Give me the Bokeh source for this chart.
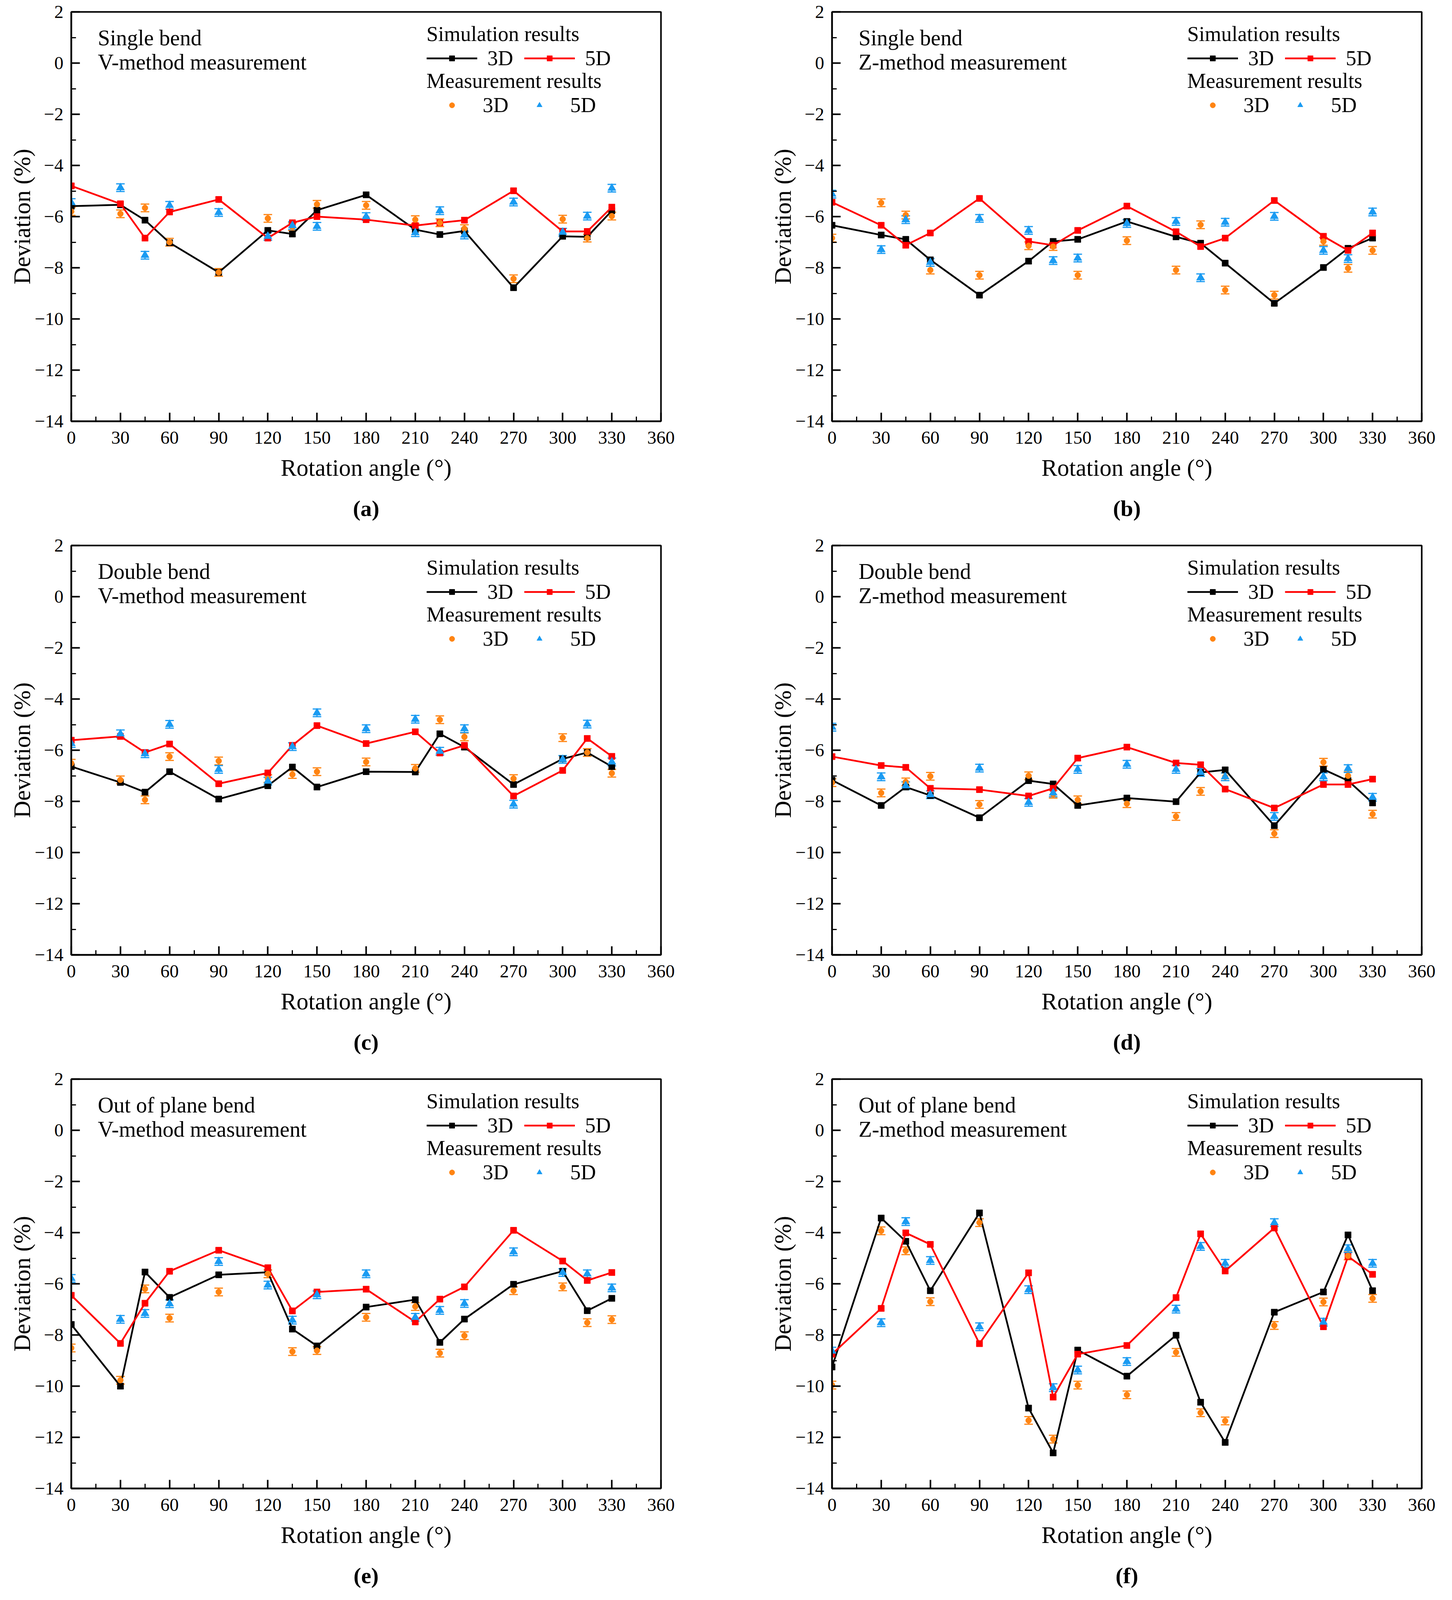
from bokeh.plotting import figure
from bokeh.models import (ColumnDataSource, Whisker, TeeHead, Legend, LegendItem,
                          Label, FixedTicker, Range1d, Title)
from bokeh.layouts import row, column
from bokeh.embed import file_html
from bokeh.resources import INLINE

# ---------------- data ----------------
ANGLES = [0, 30, 45, 60, 90, 120, 135, 150, 180, 210, 225, 240, 270, 300, 315, 330]

a_sim3 = [-5.59, -5.54, -6.14, -7.02, -8.18, -6.54, -6.68, -5.75, -5.15, -6.51, -6.70, -6.56, -8.78, -6.77, -6.79, -5.77]
a_sim5 = [-4.80, -5.50, -6.84, -5.82, -5.33, -6.84, -6.24, -6.00, -6.12, -6.35, -6.24, -6.14, -4.99, -6.58, -6.58, -5.63]
a_meas3 = [-5.80, -5.89, -5.66, -7.00, -8.18, -6.07, -6.40, -5.52, -5.56, -6.12, -6.24, -6.47, -8.43, -6.10, -6.84, -5.98]
a_meas5 = [-5.45, -4.87, -7.51, -5.56, -5.84, -6.77, -6.35, -6.38, -6.00, -6.63, -5.77, -6.72, -5.43, -6.61, -5.98, -4.89]

b_sim3 = [-6.34, -6.72, -6.89, -7.69, -9.07, -7.74, -6.97, -6.89, -6.19, -6.79, -7.04, -7.82, -9.39, -7.99, -7.24, -6.84]
b_sim5 = [-5.44, -6.34, -7.12, -6.64, -5.29, -6.97, -7.12, -6.54, -5.59, -6.59, -7.17, -6.84, -5.37, -6.77, -7.32, -6.64]
b_meas3 = [-6.84, -5.46, -5.94, -8.09, -8.29, -7.14, -7.17, -8.29, -6.94, -8.09, -6.32, -8.87, -9.07, -6.97, -8.02, -7.32]
b_meas5 = [-5.12, -7.29, -6.12, -7.79, -6.07, -6.54, -7.72, -7.62, -6.27, -6.19, -8.39, -6.22, -5.99, -7.32, -7.64, -5.82]

c_sim3 = [-6.64, -7.26, -7.64, -6.84, -7.91, -7.39, -6.66, -7.44, -6.84, -6.85, -5.36, -5.88, -7.34, -6.34, -6.09, -6.64]
c_sim5 = [-5.61, -5.46, -6.09, -5.76, -7.31, -6.89, -5.81, -5.04, -5.74, -5.28, -6.11, -5.81, -7.79, -6.79, -5.54, -6.24]
c_meas3 = [-6.51, -7.16, -7.94, -6.25, -6.42, -7.11, -6.95, -6.84, -6.46, -6.71, -4.81, -5.48, -7.11, -5.51, -6.09, -6.90]
c_meas5 = [-5.74, -5.36, -6.14, -4.99, -6.75, -7.21, -5.86, -4.54, -5.16, -4.79, -6.04, -5.16, -8.11, -6.36, -4.98, -6.46]

d_sim3 = [-7.17, -8.16, -7.44, -7.77, -8.64, -7.19, -7.32, -8.16, -7.87, -8.01, -6.87, -6.77, -8.95, -6.75, -7.19, -8.06]
d_sim5 = [-6.25, -6.60, -6.67, -7.49, -7.54, -7.79, -7.49, -6.31, -5.88, -6.50, -6.57, -7.52, -8.26, -7.34, -7.34, -7.13]
d_meas3 = [-7.27, -7.67, -7.24, -7.02, -8.12, -7.00, -7.72, -7.94, -8.09, -8.59, -7.61, -7.04, -9.26, -6.47, -7.00, -8.50]
d_meas5 = [-5.10, -7.04, -7.39, -7.74, -6.70, -8.04, -7.67, -6.75, -6.55, -6.75, -6.87, -7.04, -8.59, -7.04, -6.72, -7.84]

e_sim3 = [-7.59, -10.00, -5.54, -6.53, -5.65, -5.55, -7.77, -8.43, -6.91, -6.62, -8.29, -7.38, -6.02, -5.51, -7.05, -6.57]
e_sim5 = [-6.45, -8.33, -6.76, -5.51, -4.69, -5.37, -7.06, -6.32, -6.21, -7.49, -6.60, -6.12, -3.91, -5.11, -5.87, -5.56]
e_meas3 = [-8.51, -9.77, -6.20, -7.34, -6.32, -5.61, -8.65, -8.61, -7.31, -6.89, -8.71, -8.03, -6.27, -6.12, -7.52, -7.40]
e_meas5 = [-5.79, -7.39, -7.16, -6.78, -5.13, -6.05, -7.42, -6.43, -5.61, -7.31, -7.04, -6.77, -4.75, -5.56, -5.61, -6.16]

f_sim3 = [-9.25, -3.43, -4.34, -6.27, -3.23, -10.86, -12.61, -8.59, -9.61, -8.01, -10.63, -12.20, -7.11, -6.32, -4.09, -6.27]
f_sim5 = [-8.75, -6.96, -4.01, -4.46, -8.34, -5.57, -10.43, -8.75, -8.41, -6.54, -4.05, -5.50, -3.82, -7.68, -4.93, -5.63]
f_meas3 = [-9.96, -3.93, -4.71, -6.70, -3.61, -11.34, -12.07, -9.96, -10.34, -8.68, -11.04, -11.36, -7.63, -6.71, -4.91, -6.57]
f_meas5 = [-8.63, -7.52, -3.57, -5.09, -7.68, -6.23, -10.06, -9.37, -9.04, -6.99, -4.54, -5.20, -3.61, -7.50, -4.63, -5.20]

MEAS_ERR = 0.15

PANEL_LETTERS = ["a", "b", "c", "d", "e", "f"]
PANEL_LINE1 = ["Single bend", "Single bend", "Double bend", "Double bend",
               "Out of plane bend", "Out of plane bend"]
PANEL_LINE2 = ["V-method measurement", "Z-method measurement",
               "V-method measurement", "Z-method measurement",
               "V-method measurement", "Z-method measurement"]
PANEL_DATA = [
    (a_sim3, a_sim5, a_meas3, a_meas5),
    (b_sim3, b_sim5, b_meas3, b_meas5),
    (c_sim3, c_sim5, c_meas3, c_meas5),
    (d_sim3, d_sim5, d_meas3, d_meas5),
    (e_sim3, e_sim5, e_meas3, e_meas5),
    (f_sim3, f_sim5, f_meas3, f_meas5),
]

Y_TICKS = [-14, -12, -10, -8, -6, -4, -2, 0, 2]
Y_MINOR = [-13, -11, -9, -7, -5, -3, -1, 1]
X_TICKS = [0, 30, 60, 90, 120, 150, 180, 210, 240, 270, 300, 330, 360]
X_MINOR = [15, 45, 75, 105, 135, 165, 195, 225, 255, 285, 315, 345]

# ---------------- style ----------------
FONT = "Liberation Serif"
BLACK = "#000000"
RED = "#FF0000"
ORANGE = "#FF8412"
BLUE = "#1A9BF2"

FIG_W = 1851
FIG_H = 1366
FRAME_W = 1510
TOP_B = 30
BOT_B = 284
FRAME_H = FIG_H - TOP_B - BOT_B
LEG_H = 130


def make_panel(i):
    sim3, sim5, meas3, meas5 = PANEL_DATA[i]
    left_col = (i % 2 == 0)
    bl = 182 if left_col else 279
    br = FIG_W - bl - FRAME_W

    p = figure(width=FIG_W, height=FIG_H, x_range=Range1d(0, 360), y_range=Range1d(-14, 2),
               output_backend="svg", toolbar_location=None,
               min_border_left=bl, min_border_right=br,
               min_border_top=TOP_B, min_border_bottom=BOT_B)
    p.xgrid.visible = False
    p.ygrid.visible = False
    p.outline_line_color = "black"
    p.outline_line_width = 4
    p.background_fill_color = "white"
    p.border_fill_color = "white"

    for ax in (p.xaxis[0], p.yaxis[0]):
        ax.axis_line_width = 4
        ax.major_tick_line_width = 4
        ax.minor_tick_line_width = 3
        ax.major_tick_in = 22
        ax.major_tick_out = 0
        ax.minor_tick_in = 12
        ax.minor_tick_out = 0
        ax.major_label_text_font = FONT
        ax.major_label_text_font_size = "47px"
        ax.major_label_text_color = "black"
        ax.axis_label_text_font = FONT
        ax.axis_label_text_font_size = "61px"
        ax.axis_label_text_font_style = "normal"
        ax.axis_label_text_color = "black"

    p.yaxis.ticker = FixedTicker(ticks=Y_TICKS, minor_ticks=Y_MINOR)
    p.xaxis.ticker = FixedTicker(ticks=X_TICKS, minor_ticks=X_MINOR)
    p.yaxis.major_label_overrides = {t: ("\u2212" + str(abs(t)) if t < 0 else str(t)) for t in Y_TICKS}
    p.yaxis.major_label_standoff = 20
    p.xaxis.major_label_standoff = 26
    p.yaxis.axis_label_standoff = -4
    p.xaxis.axis_label_standoff = 25
    p.yaxis.axis_label = "Deviation (%)"
    p.xaxis.axis_label = "Rotation angle (\u00b0)"

    src = ColumnDataSource(dict(x=ANGLES, s3=sim3, s5=sim5, m3=meas3, m5=meas5,
                                m3u=[v + MEAS_ERR for v in meas3], m3l=[v - MEAS_ERR for v in meas3],
                                m5u=[v + MEAS_ERR for v in meas5], m5l=[v - MEAS_ERR for v in meas5]))
    l3 = p.line("x", "s3", source=src, line_color=BLACK, line_width=4.5)
    k3 = p.scatter("x", "s3", source=src, marker="square", size=16, fill_color=BLACK, line_color=BLACK)
    l5 = p.line("x", "s5", source=src, line_color=RED, line_width=4.5)
    k5 = p.scatter("x", "s5", source=src, marker="square", size=16, fill_color=RED, line_color=RED)

    for up, lo, col in (("m3u", "m3l", ORANGE), ("m5u", "m5l", BLUE)):
        w = Whisker(source=src, base="x", upper=up, lower=lo, line_color=col, line_width=3,
                    upper_head=TeeHead(size=22, line_color=col, line_width=3),
                    lower_head=TeeHead(size=22, line_color=col, line_width=3))
        p.add_layout(w)
    m3 = p.scatter("x", "m3", source=src, marker="circle", size=15, fill_color=ORANGE, line_color=ORANGE)
    m5 = p.scatter("x", "m5", source=src, marker="triangle", size=21, fill_color=BLUE, line_color=BLUE)

    common = dict(orientation="horizontal", padding=0, margin=0,
                  glyph_width=130, glyph_height=34,
                  border_line_color=None, background_fill_alpha=0,
                  label_text_font=FONT, label_text_font_size="54px", label_text_color="black",
                  title_text_font=FONT, title_text_font_size="54px", title_text_color="black",
                  title_text_font_style="normal", title_standoff=-3)
    leg1 = Legend(items=[LegendItem(label="3D", renderers=[l3, k3]),
                         LegendItem(label="5D", renderers=[l5, k5])],
                  title="Simulation results", location=(910, FRAME_H - 24 - LEG_H),
                  spacing=28, label_standoff=26, **common)
    leg2 = Legend(items=[LegendItem(label="3D", renderers=[m3]),
                         LegendItem(label="5D", renderers=[m5])],
                  title="Measurement results", location=(910, FRAME_H - 144 - LEG_H),
                  spacing=14, label_standoff=14, **common)
    p.add_layout(leg1)
    p.add_layout(leg2)

    for txt, dy in ((PANEL_LINE1[i], 70), (PANEL_LINE2[i], 132)):
        p.add_layout(Label(x=68, y=FRAME_H - dy, x_units="screen", y_units="screen", text=txt,
                           text_font=FONT, text_font_size="56px", text_baseline="middle",
                           text_align="left", text_color="black"))

    p.add_layout(Title(text="(" + PANEL_LETTERS[i] + ")", align="center", text_font=FONT,
                       text_font_size="58px", text_font_style="bold", text_color="black",
                       standoff=66), "below")
    return p


panels = [make_panel(i) for i in range(6)]
layout = column(row(panels[0], panels[1]), row(panels[2], panels[3]), row(panels[4], panels[5]))

open("out.html", "w").write(file_html(layout, INLINE))
